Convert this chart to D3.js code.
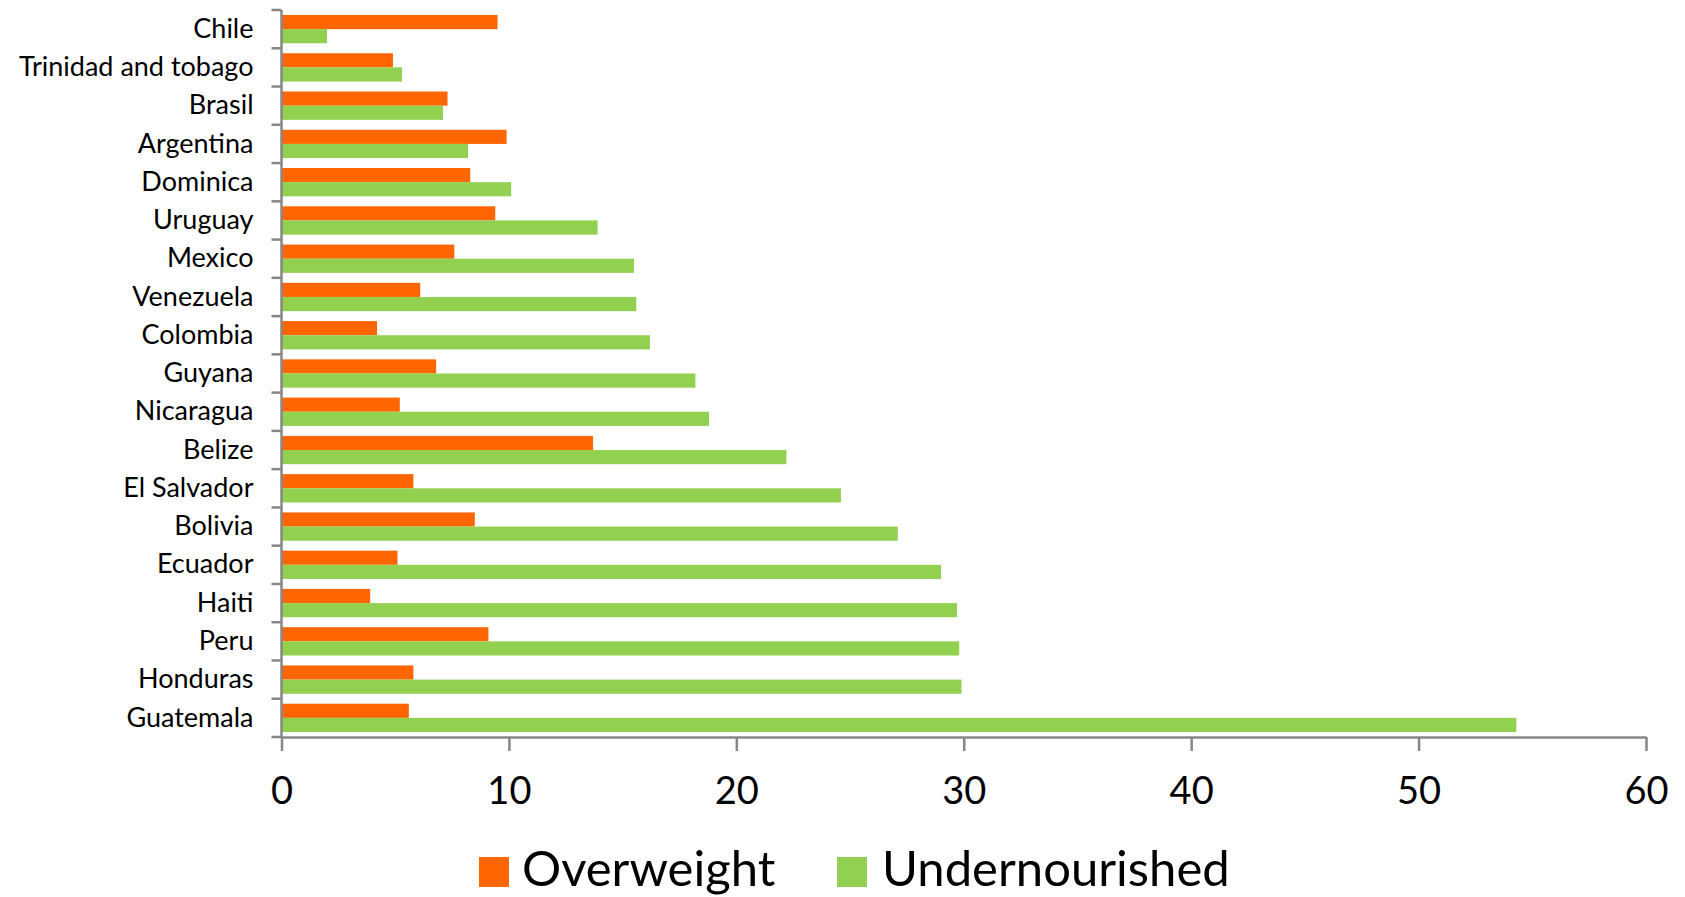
<!DOCTYPE html>
<html>
<head>
<meta charset="utf-8">
<script src="https://cdn.jsdelivr.net/npm/d3@7/dist/d3.min.js"></script>
<style>
  html, body { margin: 0; padding: 0; background: #fff; }
  svg { display: block; }
  text { font-family: Lato, "Open Sans", sans-serif; fill: #000; }
</style>
</head>
<body>
<svg id="chart" width="1685" height="897"></svg>
<script>
// Countries, top to bottom
const countries = [
  "Chile", "Trinidad and tobago", "Brasil", "Argentina", "Dominica", "Uruguay",
  "Mexico", "Venezuela", "Colombia", "Guyana", "Nicaragua", "Belize",
  "El Salvador", "Bolivia", "Ecuador", "Haiti", "Peru", "Honduras", "Guatemala"
];
// Prevalence (%) per country, same order
const overweight = [
  9.5, 4.9, 7.3, 9.9, 8.3, 9.4, 7.6, 6.1, 4.2, 6.8, 5.2, 13.7,
  5.8, 8.5, 5.1, 3.9, 9.1, 5.8, 5.6
];
const undernourished = [
  2.0, 5.3, 7.1, 8.2, 10.1, 13.9, 15.5, 15.6, 16.2, 18.2, 18.8, 22.2,
  24.6, 27.1, 29.0, 29.7, 29.8, 29.9, 54.3
];
const seriesNames = ["Overweight", "Undernourished"];
const seriesColors = ["#FF6600", "#92D050"];
const xTicks = [0, 10, 20, 30, 40, 50, 60];

const svg = d3.select("#chart");
const plot = { left: 281.5, right: 1646, top: 10, bottom: 737 };
const axisColor = "#878787";

const x = d3.scaleLinear().domain([0, 60]).range([plot.left, plot.right]);
const y = d3.scaleBand().domain(countries).range([plot.top, plot.bottom]).padding(0);
const bw = y.bandwidth();
const ySub = d3.scaleBand().domain(seriesNames).range([bw * 0.13, bw * 0.87]).padding(0);

const rows = countries.map((c, i) => ({
  country: c,
  values: [overweight[i], undernourished[i]]
}));

// Bars
const groups = svg.append("g").selectAll("g")
  .data(rows).join("g")
  .attr("transform", d => `translate(0,${y(d.country)})`);

groups.selectAll("rect")
  .data(d => d.values.map((v, k) => ({ v, k })))
  .join("rect")
  .attr("x", x(0))
  .attr("y", d => ySub(seriesNames[d.k]))
  .attr("width", d => x(d.v) - x(0))
  .attr("height", ySub.bandwidth())
  .attr("fill", d => seriesColors[d.k]);

// Category axis: labels centred on each band, ticks on band boundaries
const yAxis = svg.append("g")
  .attr("transform", `translate(${plot.left},0)`)
  .call(d3.axisLeft(y).tickSize(0).tickPadding(28));
yAxis.select(".domain").remove();
yAxis.selectAll("text")
  .style("font-size", "27px")
  .style("font-family", "Lato, 'Open Sans', sans-serif")
  .attr("fill", "#000");

const boundaries = d3.range(countries.length + 1).map(i => plot.top + i * y.step());
svg.append("g").selectAll("line")
  .data(boundaries).join("line")
  .attr("x1", plot.left - 10).attr("x2", plot.left)
  .attr("y1", d => d).attr("y2", d => d)
  .attr("stroke", axisColor).attr("stroke-width", 2.5);
svg.append("line")
  .attr("x1", plot.left).attr("x2", plot.left)
  .attr("y1", plot.top).attr("y2", plot.bottom)
  .attr("stroke", axisColor).attr("stroke-width", 2.5);

// Value axis
const xAxis = svg.append("g")
  .attr("transform", `translate(0,${plot.bottom})`)
  .call(d3.axisBottom(x).tickValues(xTicks).tickSize(14).tickSizeOuter(0).tickPadding(26));
xAxis.select(".domain").attr("stroke", axisColor).attr("stroke-width", 2.5);
xAxis.selectAll(".tick line").attr("stroke", axisColor).attr("stroke-width", 2.5);
xAxis.selectAll("text")
  .style("font-size", "38px")
  .style("font-family", "Lato, 'Open Sans', sans-serif")
  .attr("fill", "#000");

// Legend
const legendItems = [
  { name: seriesNames[0], color: seriesColors[0], sx: 479, tx: 522 },
  { name: seriesNames[1], color: seriesColors[1], sx: 837, tx: 882 }
];
const legend = svg.append("g");
legend.selectAll("rect")
  .data(legendItems).join("rect")
  .attr("x", d => d.sx).attr("y", 857)
  .attr("width", 30).attr("height", 30)
  .attr("fill", d => d.color);
legend.selectAll("text")
  .data(legendItems).join("text")
  .attr("x", d => d.tx).attr("y", 886)
  .style("font-size", "49px")
  .text(d => d.name);
</script>
</body>
</html>
